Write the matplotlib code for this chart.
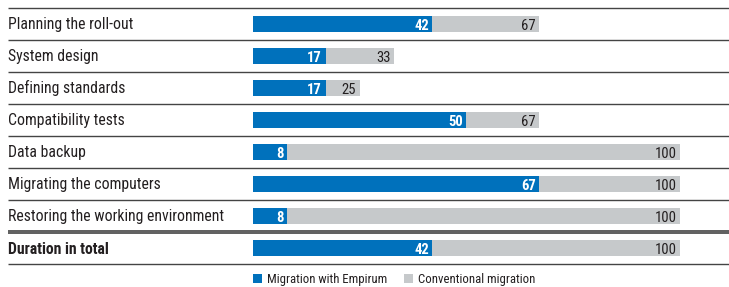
import matplotlib.pyplot as plt
from matplotlib.patches import Patch

# data
tasks = ["Planning the roll-out", "System design", "Defining standards",
         "Compatibility tests", "Data backup", "Migrating the computers",
         "Restoring the working environment", "Duration in total"]
empirum = [42, 17, 17, 50, 8, 67, 8, 42]
conventional = [67, 33, 25, 67, 100, 100, 100, 100]

blue = "#0071BC"
grey = "#C6C9CB"
txt = "#231F20"

plt.rcParams['font.family'] = ["Roboto Condensed", "DejaVu Sans"]

W, H = 729, 287
fig = plt.figure(figsize=(W / 100, H / 100), dpi=100)
ax = fig.add_axes([0, 0, 1, 1])
ax.axis("off")

# pixel mapping: 0 -> x=253px, 100 -> x=680px; rows every 32px, first centre at 24px
upx = 100 / 427
x0 = -253 * upx
ax.set_xlim(x0, x0 + W * upx)
ax.set_ylim((H - 24) / 32, -24 / 32)

ys = list(range(len(tasks)))
h = 16 / 32
ax.barh(ys, conventional, height=h, color=grey, label="Conventional migration", zorder=2)
ax.barh(ys, empirum, height=h, color=blue, label="Migration with Empirum", zorder=3)

pad = 3.5 * upx
base = 5.5 / 32
for y, t, e, c in zip(ys, tasks, empirum, conventional):
    bold = "bold" if t == "Duration in total" else "normal"
    ax.text(x0 + 8 * upx, y + base, t, ha="left", va="baseline", fontsize=11.3,
            color=txt, fontweight=bold)
    ax.text(e - pad, y + base, str(e), ha="right", va="baseline", fontsize=10.5,
            color="white", fontweight="bold", zorder=4)
    ax.text(c - pad, y + base, str(c), ha="right", va="baseline", fontsize=10.5,
            color=txt, zorder=4)

# separator lines
xl, xr = x0 + 8 * upx, x0 + W * upx
for i in range(len(tasks) + 1):
    yy = i - 0.5
    if i == len(tasks) - 1:
        ax.hlines([yy - 1.0 / 32, yy + 1.0 / 32], xl, xr, color="#333333", lw=1.1)
    else:
        ax.hlines(yy, xl, xr, color="#444444", lw=1.0)

handles = [Patch(facecolor=blue, label="Migration with Empirum"),
           Patch(facecolor=grey, label="Conventional migration")]
fig.legend(handles=handles, loc="center left", bbox_to_anchor=(253 / W, 1 - 279.5 / H),
           ncol=2, frameon=False, fontsize=9.2, handlelength=0.7, handleheight=0.7,
           handletextpad=0.4, columnspacing=1.3, borderpad=0, borderaxespad=0,
           labelcolor=txt)

fig.savefig("out.png", dpi=100)
